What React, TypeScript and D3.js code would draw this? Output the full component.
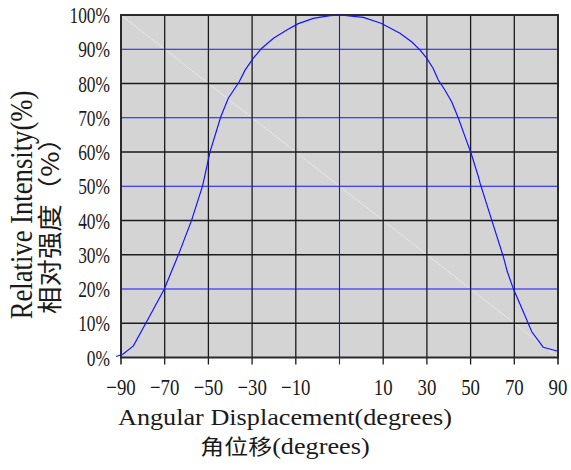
import React from "react";
import * as d3 from "d3";

const angles = [-92, -89.1, -84.9, -79.4, -72.2, -66.4, -60.9, -56.4, -53.3, -48.9, -45.8, -41.3, -38.9, -35.5, -32.0, -27.2, -21.7, -17.2, -10.8, -3.9, 0.2, 9.8, 17.1, 24.9, 29.7, 33.1, 35.9, 38.6, 40.7, 43.4, 46.2, 48.9, 51.7, 54.3, 57.2, 57.9, 62.7, 67.5, 69.1, 71.7, 75.4, 79.2, 83.9, 89.7];
const intensity = [0.3, 1.0, 3.4, 10.5, 19.9, 29.9, 40.1, 50.1, 60.1, 70.3, 75.7, 80.5, 83.9, 87.4, 90.3, 93.2, 95.6, 97.4, 99.0, 99.8, 100, 99.3, 97.6, 94.7, 92.2, 89.8, 87.4, 84.4, 81.0, 78.1, 74.7, 70.0, 64.5, 59.4, 52.8, 50.9, 40.1, 29.4, 25.1, 19.9, 13.9, 7.5, 3.0, 1.9];

const xGridValues = [-90, -72, -54, -36, -18, 0, 18, 36, 54, 72, 90];
const xTickLabels = ["−90", "−70", "−50", "−30", "−10", "", "10", "30", "50", "70", "90"];
const yTickValues = [0, 10, 20, 30, 40, 50, 60, 70, 80, 90, 100];
const yTickLabels = ["0%", "10%", "20%", "30%", "40%", "50%", "60%", "70%", "80%", "90%", "100%"];
const blueY = [20, 50, 70, 90];
const blackY = [10, 30, 40, 60, 80];

const xTitle = "Angular Displacement(degrees)";
const xTitleCn = "角位移";
const xTitleCnUnit = "(degrees)";
const yTitle = "Relative Intensity(%)";
const yTitleCn = "相对强度（%）";

export default function App() {
  const W = 571, H = 470;
  const L = 121, R = 558, T = 15, B = 357.5;
  const x = d3.scaleLinear().domain([-90, 90]).range([L, R]);
  const y = d3.scaleLinear().domain([0, 100]).range([B, T]);
  const line = d3.line<number>().x((_, i) => x(angles[i])).y((d) => y(d));
  const blue = "#1414ff";
  const serif = "'Liberation Serif', 'Times New Roman', serif";
  const cjk = "'Noto Sans CJK SC', sans-serif";
  return (
    <svg width={W} height={H} style={{ position: "absolute", left: 0, top: 0, background: "#fff" }}>
      <rect x={L} y={T} width={R - L} height={B - T} fill="#d4d4d4" />
      <line x1={L} y1={T} x2={R} y2={B} stroke="#e9e9e9" strokeWidth={0.8} />
      {blackY.map((v) => (
        <line key={"hb" + v} x1={L} x2={R} y1={y(v)} y2={y(v)} stroke="#1a1a1a" strokeWidth={1.3} />
      ))}
      {xGridValues.map((v, i) =>
        i === 0 || i === xGridValues.length - 1 ? null : (
          <line key={"v" + v} x1={x(v)} x2={x(v)} y1={T} y2={B + 7}
            stroke={v === 0 ? blue : "#1a1a1a"} strokeWidth={v === 0 ? 1.1 : 1.3} />
        )
      )}
      {blueY.map((v) => (
        <line key={"hbl" + v} x1={L} x2={R} y1={y(v)} y2={y(v)} stroke={blue} strokeWidth={1.2} />
      ))}
      <rect x={L} y={T} width={R - L} height={B - T} fill="none" stroke="#2a2a2a" strokeWidth={2} />
      <line x1={L} x2={L} y1={B} y2={B + 7} stroke="#1a1a1a" strokeWidth={1.5} />
      <line x1={R} x2={R} y1={B} y2={B + 7} stroke="#1a1a1a" strokeWidth={1.5} />
      <path d={line(intensity) || ""} fill="none" stroke={blue} strokeWidth={1.2} />
      {xGridValues.map((v, i) => (
        <text key={"xl" + v} transform={`translate(${x(v)},395) scale(0.8,1)`} textAnchor="middle"
          fontFamily={serif} fontSize={23.5} fill="#1a1a1a">{xTickLabels[i]}</text>
      ))}
      {yTickValues.map((v, i) => (
        <text key={"yl" + v} transform={`translate(110,${y(v) + 8}) scale(0.74,1)`} textAnchor="end"
          fontFamily={serif} fontSize={23.5} fill="#1a1a1a">{yTickLabels[i]}</text>
      ))}
      <text transform="translate(285,425) scale(1.14,1)" textAnchor="middle" fontFamily={serif} fontSize={23} fill="#1a1a1a">{xTitle}</text>
      <text transform="translate(285,454) scale(1.14,1)" textAnchor="middle" fontFamily={serif} fontSize={23} fill="#1a1a1a">
        <tspan fontFamily={cjk} fontSize={21}>{xTitleCn}</tspan>
        <tspan>{xTitleCnUnit}</tspan>
      </text>
      <text transform="translate(32,205) rotate(-90) scale(0.86,1)" textAnchor="middle" fontFamily={serif} fontSize={31} fill="#1a1a1a">{yTitle}</text>
      <text transform="translate(59,219) rotate(-90) scale(1.12,1)" textAnchor="middle" fontFamily={cjk} fontSize={24.5} fill="#1a1a1a">{yTitleCn}</text>
    </svg>
  );
}
